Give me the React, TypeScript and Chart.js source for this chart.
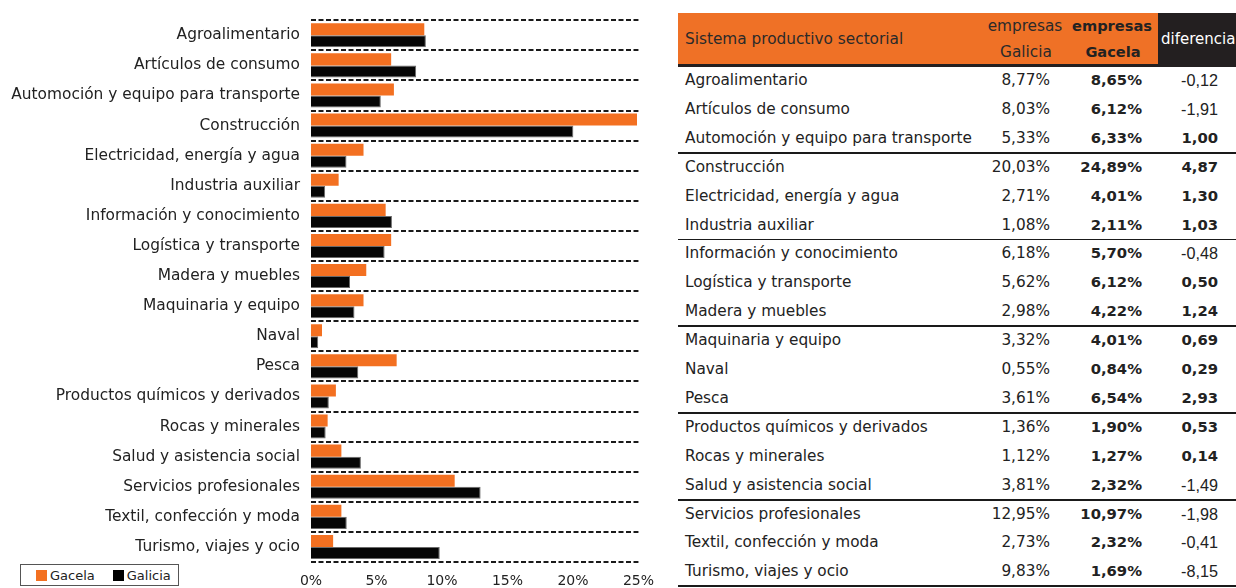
import React, { useEffect, useRef } from 'react';
import { Chart, registerables } from 'chart.js';

Chart.register(...registerables);

const categories = [
  'Agroalimentario',
  'Artículos de consumo',
  'Automoción y equipo para transporte',
  'Construcción',
  'Electricidad, energía y agua',
  'Industria auxiliar',
  'Información y conocimiento',
  'Logística y transporte',
  'Madera y muebles',
  'Maquinaria y equipo',
  'Naval',
  'Pesca',
  'Productos químicos y derivados',
  'Rocas y minerales',
  'Salud y asistencia social',
  'Servicios profesionales',
  'Textil, confección y moda',
  'Turismo, viajes y ocio',
];

const galicia = [8.77, 8.03, 5.33, 20.03, 2.71, 1.08, 6.18, 5.62, 2.98, 3.32, 0.55, 3.61, 1.36, 1.12, 3.81, 12.95, 2.73, 9.83];
const gacela = [8.65, 6.12, 6.33, 24.89, 4.01, 2.11, 5.7, 6.12, 4.22, 4.01, 0.84, 6.54, 1.9, 1.27, 2.32, 10.97, 2.32, 1.69];
const diferencia = [-0.12, -1.91, 1.0, 4.87, 1.3, 1.03, -0.48, 0.5, 1.24, 0.69, 0.29, 2.93, 0.53, 0.14, -1.49, -1.98, -0.41, -8.15];

const xTickValues = [0, 5, 10, 15, 20, 25];
const seriesNames = ['Gacela', 'Galicia'];
const tableHeaders = ['Sistema productivo sectorial', 'empresas', 'Galicia', 'empresas', 'Gacela', 'diferencia'];

// group boundaries in table (row index after which a rule is drawn)
const groupEnds = [2, 5, 8, 11, 14, 17];

const ORANGE = '#F37021';
const BLACK = '#060606';
const FONT = '"DejaVu Sans", Verdana, sans-serif';

const fmt = (v: number) => v.toFixed(2).replace('.', ',');

function BarChart() {
  const ref = useRef<HTMLCanvasElement | null>(null);
  useEffect(() => {
    if (!ref.current) return;
    const chart = new Chart(ref.current, {
      type: 'bar',
      data: {
        labels: categories,
        datasets: [
          {
            label: seriesNames[0],
            data: gacela,
            backgroundColor: ORANGE,
            borderWidth: 0,
            categoryPercentage: 0.8,
            barPercentage: 1,
          },
          {
            label: seriesNames[1],
            data: galicia,
            backgroundColor: BLACK,
            borderColor: '#6a6a6a',
            borderWidth: 1,
            categoryPercentage: 0.8,
            barPercentage: 1,
          },
        ],
      },
      options: {
        indexAxis: 'y',
        animation: false,
        responsive: true,
        maintainAspectRatio: false,
        layout: { padding: { top: 19, right: 23, left: 0, bottom: 0 } },
        plugins: { legend: { display: false }, tooltip: { enabled: false } },
        scales: {
          x: {
            min: 0,
            max: 25,
            afterBuildTicks: (s: any) => {
              s.ticks = xTickValues.map((v) => ({ value: v }));
            },
            grid: { display: false, drawTicks: false },
            border: { display: false },
            ticks: {
              color: '#222',
              font: { family: FONT, size: 14 },
              padding: 11,
              maxRotation: 0,
              callback: (v: any) => v + '%',
            },
            afterFit: (s: any) => {
              s.height = 26;
            },
          },
          y: {
            grid: { display: true, offset: true, color: '#1a1a1a', lineWidth: 2, drawTicks: false },
            border: { display: false, dash: [5, 2.5] },
            ticks: {
              color: '#222',
              font: { family: FONT, size: 15.4 },
              padding: 11,
              autoSkip: false,
            },
            afterFit: (s: any) => {
              s.width = 311;
            },
          },
        },
      },
    });
    return () => chart.destroy();
  }, []);
  return <canvas ref={ref} />;
}

function Legend() {
  const item = (color: string, label: string, gap: number) => (
    <span style={{ display: 'inline-flex', alignItems: 'center', marginRight: gap }}>
      <span style={{ width: 11, height: 11, background: color, display: 'inline-block', marginRight: 3 }} />
      <span>{label}</span>
    </span>
  );
  return (
    <div
      style={{
        position: 'absolute',
        left: 20,
        top: 564,
        width: 159,
        height: 22,
        border: '1px solid #555',
        boxSizing: 'border-box',
        fontFamily: FONT,
        fontSize: 13,
        color: '#222',
        display: 'flex',
        alignItems: 'center',
        paddingLeft: 15,
        background: '#fff',
      }}
    >
      {item(ORANGE, seriesNames[0], 18)}
      {item('#000', seriesNames[1], 0)}
    </div>
  );
}

function Table() {
  const rowTop = 66;
  const rowH = 28.9;
  const left = 678;
  const txt: React.CSSProperties = {
    position: 'absolute',
    fontFamily: FONT,
    fontSize: 15.3,
    color: '#222',
    whiteSpace: 'nowrap',
    lineHeight: rowH + 'px',
    height: rowH,
  };
  const hdr: React.CSSProperties = { ...txt, fontSize: 15.3, lineHeight: '28px', height: 28 };
  return (
    <>
      <div style={{ position: 'absolute', left, top: 13, width: 480, height: 52, background: '#EF7126' }} />
      <div style={{ position: 'absolute', left: 1158, top: 13, width: 78, height: 52, background: '#231F20' }} />
      <div style={{ position: 'absolute', left, top: 64, width: 1236 - left, height: 3, background: '#231F20' }} />
      <div style={{ ...hdr, left: 685, top: 25, color: '#2a2a2a' }}>{tableHeaders[0]}</div>
      <div style={{ ...hdr, left: 975, width: 100, textAlign: 'center', top: 12, color: '#2a2a2a' }}>{tableHeaders[1]}</div>
      <div style={{ ...hdr, left: 976, width: 100, textAlign: 'center', top: 38, color: '#2a2a2a' }}>{tableHeaders[2]}</div>
      <div style={{ ...hdr, left: 1062, width: 100, textAlign: 'center', top: 12, fontWeight: 'bold', fontSize: 14.6 }}>{tableHeaders[3]}</div>
      <div style={{ ...hdr, left: 1063, width: 100, textAlign: 'center', top: 38, fontWeight: 'bold', fontSize: 14.6 }}>{tableHeaders[4]}</div>
      <div style={{ ...hdr, left: 1161, top: 25, color: '#fff', fontSize: 15 }}>{tableHeaders[5]}</div>
      {categories.map((c, i) => {
        const top = rowTop + i * rowH;
        const d = diferencia[i];
        return (
          <React.Fragment key={c}>
            <div style={{ ...txt, left: 685, top }}>{c}</div>
            <div style={{ ...txt, left: 950, width: 100, textAlign: 'right', top }}>{fmt(galicia[i]) + '%'}</div>
            <div style={{ ...txt, left: 1042, width: 100, textAlign: 'right', top, fontWeight: 'bold', fontSize: 14.8 }}>
              {fmt(gacela[i]) + '%'}
            </div>
            <div
              style={{
                ...txt,
                left: 1118,
                width: 100,
                textAlign: 'right',
                top,
                fontWeight: d >= 0 ? 'bold' : 'normal',
                fontFamily: d >= 0 ? FONT : '"Liberation Sans", Arial, sans-serif',
                fontSize: d >= 0 ? 14.8 : 16.2,
              }}
            >
              {fmt(d)}
            </div>
          </React.Fragment>
        );
      })}
      {groupEnds.map((g, k) => {
        const y = rowTop + (g + 1) * rowH;
        const thick = k === 1 ? 1 : 2;
        return (
          <div
            key={g}
            style={{ position: 'absolute', left, top: y - thick / 2, width: 1236 - left, height: thick, background: '#1a1a1a' }}
          />
        );
      })}
    </>
  );
}

export default function App() {
  return (
    <div style={{ position: 'absolute', left: 0, top: 0, width: 1236, height: 588, overflow: 'hidden', background: '#fff' }}>
      <div style={{ position: 'absolute', left: 0, top: 0, width: 665, height: 588 }}>
        <BarChart />
      </div>
      <Legend />
      <Table />
    </div>
  );
}
